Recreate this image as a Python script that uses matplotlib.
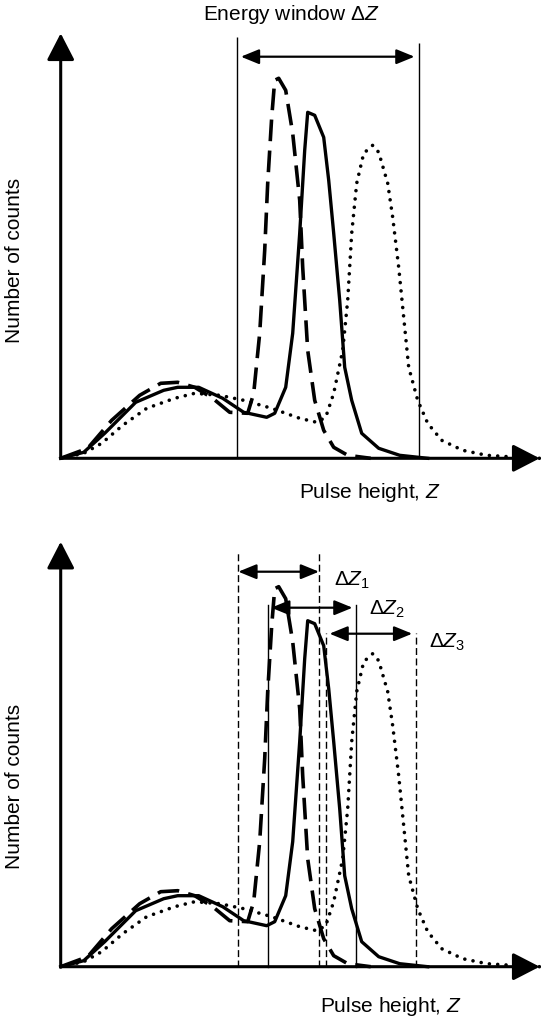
import matplotlib
matplotlib.use("Agg")
import matplotlib.pyplot as plt
from matplotlib.patches import ArrowStyle

plt.rcParams['font.family'] = ['Liberation Sans', 'DejaVu Sans']
plt.rcParams['mathtext.fontset'] = 'custom'
plt.rcParams['mathtext.rm'] = 'Liberation Sans'
plt.rcParams['mathtext.it'] = 'Liberation Sans:italic'

# ---- data (pulse height Z, number of counts; arbitrary units) ----
z_solid = [0, 23, 44, 75, 103, 117, 138, 162, 183, 206, 214, 225, 232, 239, 244, 247,
           254, 263, 268, 273, 279, 284, 291, 301, 318, 339, 367]
n_solid = [0, 6, 25, 56, 68, 71, 71, 60, 46, 41, 45, 71, 125, 225, 308, 346,
           343, 321, 278, 225, 158, 91, 58, 25, 10, 3, 0]

z_dashed = [0, 27, 51, 79, 100, 117, 134, 152, 169, 187, 193, 199, 204, 207, 211, 214,
            218, 225, 232, 239, 242, 247, 254, 263, 273, 287, 310]
n_dashed = [0, 10, 38, 63, 75, 76, 71, 60, 46, 45, 65, 125, 208, 275, 341, 378,
            380, 368, 325, 258, 191, 108, 58, 28, 11, 3, 0]

z_dotted = [0, 23, 41, 62, 86, 114, 134, 159, 183, 211, 239, 256, 265, 273, 282, 287,
            291, 296, 303, 312, 318, 327, 332, 338, 343, 348, 357, 367, 381, 402, 426, 457, 479]
n_dotted = [0, 5, 15, 33, 50, 60, 65, 63, 58, 50, 40, 36, 41, 65, 108, 158,
            225, 275, 305, 313, 306, 275, 241, 191, 141, 91, 58, 35, 18, 8, 3, 1, 0]

z_max, n_max = 479, 425

# top panel: single energy window
window_top = (176, 358)
window_top_label = "Energy window Δ$Z$"

# bottom panel: three narrow windows
win_lo = [177.6, 207.0, 265.3]
win_hi = [258.3, 295.3, 355.0]
win_arrow_y = [395, 359, 333]
win_line_top = [415, 362, 334]
win_style = ['dashed', 'solid', 'dashed']
win_labels = ["Δ$Z_1$", "Δ$Z_2$", "Δ$Z_3$"]

W, H = 541, 1017
fig = plt.figure(figsize=(W / 100, H / 100), dpi=100)

def make_axes(origin_y_px):
    ax = fig.add_axes([60.7 / W, (H - origin_y_px) / H, 480 / W, 425 / H])
    ax.set_xlim(0, 480)
    ax.set_ylim(0, 425)
    ax.axis('off')
    return ax

def draw_common(ax):
    axis_style = ArrowStyle('-|>', head_length=16.5, head_width=8.5)
    for end in [(z_max, 0), (0, n_max)]:
        ax.annotate('', xy=end, xytext=(0, 0),
                    arrowprops=dict(arrowstyle=axis_style, mutation_scale=1,
                                    lw=2.2, color='black', shrinkA=0, shrinkB=0),
                    annotation_clip=False)
    ax.plot(z_dotted, n_dotted, color='black', lw=2.6, linestyle=(0, (0.01, 2.3)),
            dash_capstyle='round', solid_capstyle='round', clip_on=False)
    ax.plot(z_dashed, n_dashed, color='black', lw=2.6, linestyle=(0, (6, 2.6)),
            clip_on=False)
    ax.plot(z_solid, n_solid, color='black', lw=2.4, solid_joinstyle='round',
            clip_on=False)

def win_arrow(ax, x0, x1, y, shrink):
    st = ArrowStyle('<|-|>', head_length=11, head_width=4.5)
    ax.annotate('', xy=(x1, y), xytext=(x0, y),
                arrowprops=dict(arrowstyle=st, mutation_scale=1, lw=1.6,
                                color='black', shrinkA=shrink, shrinkB=shrink),
                annotation_clip=False)

# ---- top panel ----
ax1 = make_axes(458.3)
draw_common(ax1)
ax1.vlines(window_top[0], 0, 421, color='black', lw=1.0, clip_on=False)
ax1.vlines(window_top[1], 0, 415, color='black', lw=1.0, clip_on=False)
win_arrow(ax1, window_top[0], window_top[1], 401.6, 3)
fig.text(291 / W, 1 - 15 / H, window_top_label, fontsize=15, ha='center', va='center')
fig.text(15 / W, 1 - 260 / H, "Number of counts", fontsize=15, rotation=90,
         ha='center', va='center')
fig.text(370 / W, 1 - 493 / H, "Pulse height, $Z$", fontsize=15, ha='center', va='center')

# ---- bottom panel ----
ax2 = make_axes(966.7)
draw_common(ax2)
for lo, hi, ya, yt, ls, lab, k in zip(win_lo, win_hi, win_arrow_y, win_line_top,
                                      win_style, win_labels, range(3)):
    dash = (0, (5, 2.5)) if ls == 'dashed' else '-'
    ax2.plot([lo, lo], [0, yt], color='black', lw=1.0, linestyle=dash, clip_on=False)
    ax2.plot([hi, hi], [0, yt], color='black', lw=1.0, linestyle=dash, clip_on=False)
    win_arrow(ax2, lo, hi, ya, 0 if k == 0 else 2.5)
lab_x = [352, 387, 447]
lab_y = [580, 609, 642]
for lab, lx, ly in zip(win_labels, lab_x, lab_y):
    fig.text(lx / W, 1 - ly / H, lab, fontsize=15, ha='center', va='center')
fig.text(15 / W, 1 - 786 / H, "Number of counts", fontsize=15, rotation=90,
         ha='center', va='center')
fig.text(391 / W, 1 - 1007 / H, "Pulse height, $Z$", fontsize=15, ha='center', va='center')

fig.savefig('out.png', dpi=100)
